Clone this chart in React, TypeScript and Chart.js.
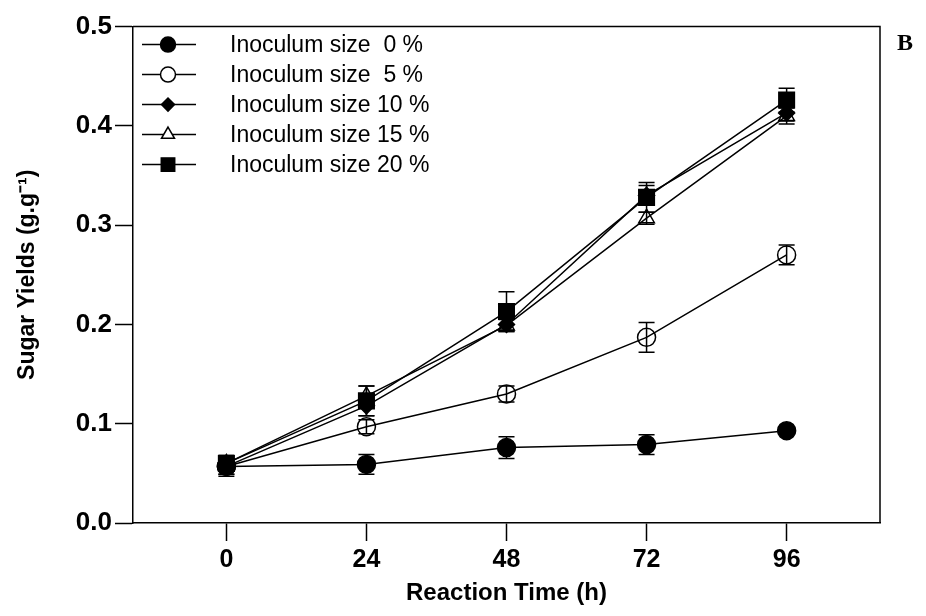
import React, { useEffect, useRef } from "react";
import { Chart, registerables } from "chart.js";

Chart.register(...registerables);

const timePoints = [0, 24, 48, 72, 96];
const xTicks = [0, 24, 48, 72, 96];
const seriesLabels = [
  "Inoculum size  0 %",
  "Inoculum size  5 %",
  "Inoculum size 10 %",
  "Inoculum size 15 %",
  "Inoculum size 20 %",
];
const yield0 = [0.057, 0.059, 0.076, 0.079, 0.093];
const err0 = [0.01, 0.01, 0.011, 0.01, 0.003];
const yield5 = [0.057, 0.097, 0.13, 0.187, 0.27];
const err5 = [0.008, 0.007, 0.008, 0.015, 0.01];
const yield10 = [0.057, 0.118, 0.2, 0.33, 0.413];
const err10 = [0.008, 0.01, 0.006, 0.01, 0.008];
const yield15 = [0.06, 0.128, 0.199, 0.307, 0.41];
const err15 = [0.008, 0.01, 0.006, 0.006, 0.008];
const yield20 = [0.06, 0.123, 0.213, 0.328, 0.426];
const err20 = [0.008, 0.015, 0.02, 0.015, 0.012];

const allYields = [yield0, yield5, yield10, yield15, yield20];
const allErrs = [err0, err5, err10, err15, err20];
const pointStyles = ["circle", "circle", "rectRot", "triangle", "rect"];
const filled = [true, false, true, false, true];
const radii = [9, 9, 8, 9, 11];

export default function App() {
  const ref = useRef<HTMLCanvasElement | null>(null);

  useEffect(() => {
    if (!ref.current) return;

    const errorBars = {
      id: "errorBars",
      afterDatasetsDraw(chart: any) {
        const ctx = chart.ctx;
        const xs = chart.scales.x;
        const ys = chart.scales.y;
        ctx.save();
        ctx.strokeStyle = "#000";
        ctx.lineWidth = 1.5;
        allYields.forEach((ser, si) => {
          ser.forEach((v, i) => {
            const e = allErrs[si][i];
            const px = xs.getPixelForValue(timePoints[i]);
            const top = ys.getPixelForValue(v + e);
            const bot = ys.getPixelForValue(v - e);
            ctx.beginPath();
            ctx.moveTo(px, top);
            ctx.lineTo(px, bot);
            ctx.moveTo(px - 8, top);
            ctx.lineTo(px + 8, top);
            ctx.moveTo(px - 8, bot);
            ctx.lineTo(px + 8, bot);
            ctx.stroke();
          });
        });
        ctx.restore();
      },
    };

    const frameAndLegend = {
      id: "frameAndLegend",
      afterDraw(chart: any) {
        const ctx = chart.ctx;
        const a = chart.chartArea;
        ctx.save();
        ctx.strokeStyle = "#000";
        ctx.lineWidth = 1.5;
        ctx.beginPath();
        ctx.moveTo(a.left, a.top);
        ctx.lineTo(a.right, a.top);
        ctx.lineTo(a.right, a.bottom);
        ctx.stroke();

        // legend
        const lx0 = a.left + 9;
        const lx1 = a.left + 63;
        const mx = a.left + 35;
        const tx = a.left + 97;
        chart.data.datasets.forEach((ds: any, i: number) => {
          const y = a.top + 18 + i * 30;
          ctx.strokeStyle = "#000";
          ctx.lineWidth = 1.5;
          ctx.beginPath();
          ctx.moveTo(lx0, y);
          ctx.lineTo(lx1, y);
          ctx.stroke();
          ctx.fillStyle = filled[i] ? "#000" : "#fff";
          ctx.beginPath();
          const r = radii[i] - 1.5;
          const st = pointStyles[i];
          if (st === "circle") {
            ctx.arc(mx, y, r, 0, Math.PI * 2);
          } else if (st === "rectRot") {
            ctx.moveTo(mx - r, y);
            ctx.lineTo(mx, y - r);
            ctx.lineTo(mx + r, y);
            ctx.lineTo(mx, y + r);
            ctx.closePath();
          } else if (st === "triangle") {
            ctx.moveTo(mx, y - r);
            ctx.lineTo(mx + r * 0.866, y + r * 0.5);
            ctx.lineTo(mx - r * 0.866, y + r * 0.5);
            ctx.closePath();
          } else {
            const s = r * Math.SQRT1_2;
            ctx.rect(mx - s, y - s, 2 * s, 2 * s);
          }
          ctx.fill();
          ctx.stroke();
          ctx.fillStyle = "#000";
          ctx.font = "23px 'Liberation Sans', Arial, sans-serif";
          ctx.textBaseline = "middle";
          ctx.textAlign = "left";
          ctx.fillText(ds.label, tx, y + 1);
        });

        ctx.font = "bold 24px 'Liberation Serif', 'Times New Roman', serif";
        ctx.textAlign = "left";
        ctx.textBaseline = "middle";
        ctx.fillText("B", a.right + 17, a.top + 17);
        ctx.restore();
      },
    };

    const chart = new Chart(ref.current, {
      type: "line",
      data: {
        datasets: allYields.map((ser, si) => ({
          label: seriesLabels[si],
          data: ser.map((v, i) => ({ x: timePoints[i], y: v })),
          borderColor: "#000",
          borderWidth: 1.5,
          backgroundColor: filled[si] ? "#000" : "rgba(0,0,0,0)",
          pointStyle: pointStyles[si] as any,
          pointRadius: radii[si],
          pointBorderWidth: 1.5,
          pointBorderColor: "#000",
          pointBackgroundColor: filled[si] ? "#000" : "rgba(0,0,0,0)",
          tension: 0,
          fill: false,
        })),
      },
      options: {
        animation: false,
        responsive: false,
        maintainAspectRatio: false,
        layout: { padding: { top: 17, right: 38, left: 0, bottom: 0 } },
        plugins: {
          legend: { display: false },
          tooltip: { enabled: false },
        },
        scales: {
          x: {
            type: "linear",
            min: -16,
            max: 112,
            afterBuildTicks: (axis: any) => {
              axis.ticks = xTicks.map((v) => ({ value: v }));
            },
            afterFit: (axis: any) => {
              axis.height = 85;
            },
            grid: {
              drawOnChartArea: false,
              drawTicks: true,
              tickLength: 18,
              tickColor: "#000",
              tickWidth: 1.5,
            },
            border: { display: true, color: "#000", width: 1.5 },
            ticks: {
              color: "#000",
              padding: 4,
              font: {
                family: "'Liberation Sans Narrow', 'Liberation Sans', Arial, sans-serif",
                size: 25,
                weight: "bold",
              },
            },
            title: {
              display: true,
              text: "Reaction Time (h)",
              color: "#000",
              padding: { top: 4, bottom: 0 },
              font: {
                family: "'Liberation Sans Narrow', 'Liberation Sans', Arial, sans-serif",
                size: 24,
                weight: "bold",
              },
            },
          },
          y: {
            type: "linear",
            min: 0,
            max: 0.5,
            ticks: {
              stepSize: 0.1,
              color: "#000",
              padding: 3,
              callback: (v: any) => Number(v).toFixed(1),
              font: {
                family: "'Liberation Sans', Arial, sans-serif",
                size: 26,
                weight: "bold",
              },
            },
            afterFit: (axis: any) => {
              axis.width = 125;
            },
            grid: {
              drawOnChartArea: false,
              drawTicks: true,
              tickLength: 18,
              tickColor: "#000",
              tickWidth: 1.5,
            },
            border: { display: true, color: "#000", width: 1.5 },
            title: {
              display: true,
              text: "Sugar Yields (g.g⁻¹)",
              color: "#000",
              padding: { top: 6, bottom: 4 },
              font: {
                family: "'Liberation Sans', Arial, sans-serif",
                size: 23,
                weight: "bold",
              },
            },
          },
        },
      },
      plugins: [errorBars, frameAndLegend],
    });

    return () => chart.destroy();
  }, []);

  return (
    <div style={{ width: 910, height: 600, position: "relative" }}>
      <canvas ref={ref} width={910} height={600} style={{ display: "block" }} />
    </div>
  );
}
